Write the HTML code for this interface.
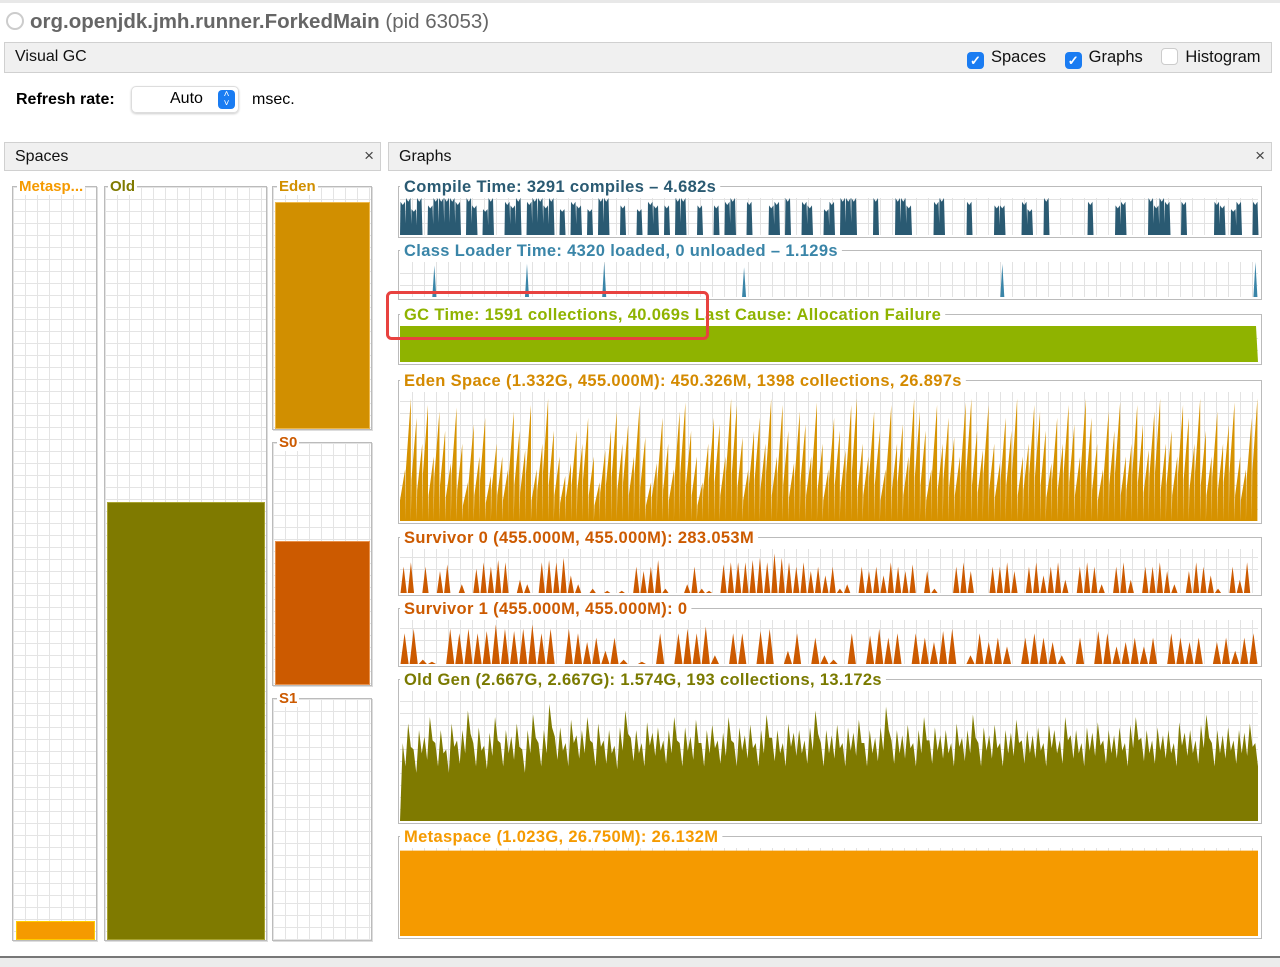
<!DOCTYPE html>
<html><head><meta charset="utf-8">
<style>
body{margin:0;width:1280px;height:967px;background:#fff;font-family:"Liberation Sans",sans-serif;position:relative;overflow:hidden}
.abs{position:absolute}
.hdr{background:#f0f0f0;border:1px solid #d0d0d0;font-size:16px;color:#111}
.cb{display:inline-block;width:17px;height:17px;border-radius:4px;vertical-align:-3px;margin-right:7px}
.on{background:#1a7cf2;color:#fff;font-size:13px;line-height:17px;text-align:center;font-weight:bold}
.off{background:#fff;border:1px solid #ccc;width:15px;height:15px}
.grid{background-color:#fff;background-image:linear-gradient(#e4e4e4 1px,transparent 1px),linear-gradient(90deg,#e4e4e4 1px,transparent 1px);background-size:12px 12px}
.sbox{border:1px solid #bbb;box-shadow:1px 1px 0 #ddd}
.slab{font-weight:bold;font-size:15px;background:#fff;padding:0 2px}
</style></head><body>
<div class="abs" style="left:0;top:0;width:1280px;height:3px;background:#e8e8e8"></div>
<div class="abs" style="left:6px;top:10px;font-size:20.5px;color:#666;white-space:nowrap"><span style="display:inline-block;width:14px;height:14px;border:2px solid #ccc;border-radius:50%;vertical-align:-2px;margin-right:6px"></span><b>org.openjdk.jmh.runner.ForkedMain</b> (pid 63053)</div>
<div class="abs hdr" style="left:4px;top:42px;width:1266px;height:29px">
 <span style="position:absolute;left:10px;top:5px">Visual GC</span>
 <span style="position:absolute;left:962px;top:5px;white-space:nowrap;font-size:16.5px">
  <span><span class="cb on">✓</span>Spaces</span>
  <span style="margin-left:14px"><span class="cb on">✓</span>Graphs</span>
  <span style="margin-left:14px"><span class="cb off"></span>Histogram</span>
 </span>
</div>
<div class="abs" style="left:16px;top:91px;font-size:16px;font-weight:bold">Refresh rate:</div>
<div class="abs" style="left:131px;top:86px;width:106px;height:25px;border:1px solid #ddd;border-radius:5px;box-shadow:0 1px 2px #ccc;font-size:16px">
 <span style="position:absolute;left:38px;top:3px">Auto</span>
 <span style="position:absolute;right:3px;top:3px;width:17px;height:19px;background:#1a7cf2;border-radius:4px;color:#fff;font-size:10px;line-height:9px;text-align:center">˄<br>˅</span>
</div>
<div class="abs" style="left:252px;top:91px;font-size:16px">msec.</div>

<div class="abs hdr" style="left:4px;top:142px;width:375px;height:27px"><span style="position:absolute;left:10px;top:5px">Spaces</span><span style="position:absolute;right:6px;top:3px;font-size:17px;color:#444">×</span></div>
<div class="abs hdr" style="left:388px;top:142px;width:882px;height:27px"><span style="position:absolute;left:10px;top:5px">Graphs</span><span style="position:absolute;right:6px;top:3px;font-size:17px;color:#444">×</span></div>

<!-- spaces -->
<div class="abs sbox grid" style="left:12px;top:186px;width:83px;height:753px"><div style="position:absolute;left:3px;right:1px;bottom:0;height:17px;background:#f59a00;border:1px solid #ffcc00"></div></div>
<div class="abs slab" style="left:17px;top:178px;color:#f59a00">Metasp...</div>
<div class="abs sbox grid" style="left:104px;top:186px;width:161px;height:753px"><div style="position:absolute;left:2px;right:1px;bottom:0;top:315px;background:#7f7a00;border:1px solid #a8a330"></div></div>
<div class="abs slab" style="left:108px;top:178px;color:#7f7a00">Old</div>
<div class="abs sbox grid" style="left:272px;top:186px;width:98px;height:242px"><div style="position:absolute;left:2px;right:1px;bottom:0;top:15px;background:#d18f00;border:1px solid #eeb84a"></div></div>
<div class="abs slab" style="left:277px;top:178px;color:#d18f00">Eden</div>
<div class="abs sbox grid" style="left:272px;top:442px;width:98px;height:242px"><div style="position:absolute;left:2px;right:1px;bottom:0;top:98px;background:#cc5a00;border:1px solid #e8904a"></div></div>
<div class="abs slab" style="left:277px;top:434px;color:#cc5a00">S0</div>
<div class="abs sbox grid" style="left:272px;top:698px;width:98px;height:241px"></div>
<div class="abs slab" style="left:277px;top:690px;color:#cc5a00">S1</div>

<svg id="g" class="abs" style="left:0;top:0" width="1280" height="967"></svg>

<div class="abs" style="left:0;top:956px;width:1280px;height:2px;background:#777"></div>
<div class="abs" style="left:0;top:958px;width:1280px;height:9px;background:#ececec"></div>

<script>
const compileVals=[0.9,1,0.7,1,0,0.8,1,1,1,1,0.9,0,1,0.8,0,0.7,1,0,0,0.9,0.8,1,0,0.9,1,1,0.8,1,0,0.7,0,0.9,0.8,0,0.7,0,1,1,0,0,0.8,0,0,0.7,0,0.9,0.8,0,0.8,0,1,1,0,0,0.8,0,0,0.8,0,0.9,1,0,0,0.9,0,0,0,0.8,0.9,0,1,0,0,0.9,0.8,0,0,0.7,0.9,0,1,1,1,0,0,0,1,0,0,0,1,1,0.8,0,0,0,0,0.9,1,0,0,0,0,0.9,0,0,0,0,0.8,0.8,0,0,0,0.9,0.7,0,0,1,0,0,0,0,0,0,0,0.9,0,0,0,0,0.8,0.9,0,0,0,0,1,0.8,1,0.9,0,0,0.9,0,0,0,0,0,0.9,0.8,0,0.7,0.9,0,0,0.9];
const classSpikeAt=[0.04,0.148,0.238,0.401,0.702,0.997];
const classSpikeH=[0.9,0.95,1,0.85,0.95,1];
const edenVals=[0.4,0.95,0.8,0.6,0.9,0.5,0.85,0.7,0.45,0.88,0.6,0.3,0.75,0.5,0.8,0.35,0.6,0.5,0.4,0.85,0.7,0.55,0.9,0.4,0.6,0.95,0.7,0.5,0.35,0.45,0.7,0.6,0.8,0.5,0.3,0.55,0.7,0.85,0.6,0.75,0.5,0.9,0.65,0.3,0.45,0.8,0.6,0.4,0.85,0.92,0.7,0.5,0.3,0.6,0.8,0.75,0.5,0.95,0.9,0.65,0.4,0.7,0.8,0.6,0.95,0.5,0.9,0.7,0.45,0.85,0.75,0.5,0.92,0.6,0.4,0.8,0.7,0.55,0.9,0.95,0.6,0.5,0.85,0.7,0.4,0.9,0.6,0.75,0.5,0.95,0.85,0.7,0.4,0.9,0.6,0.8,0.65,0.5,0.92,0.95,0.7,0.55,0.9,0.6,0.45,0.8,0.7,0.95,0.5,0.6,0.9,0.85,0.7,0.45,0.8,0.6,0.9,0.75,0.5,0.95,0.8,0.6,0.4,0.85,0.7,0.92,0.5,0.6,0.9,0.75,0.55,0.85,0.95,0.6,0.7,0.5,0.9,0.8,0.6,0.95,0.7,0.5,0.85,0.6,0.75,0.92,0.5,0.4,0.8,0.95];
const s0Vals=[0.6,0.7,0,0.6,0,0.5,0.65,0,0.2,0,0.55,0.7,0.6,0.75,0.7,0,0.3,0.2,0,0.7,0.75,0.7,0.8,0.4,0.2,0,0.1,0,0.05,0,0.05,0,0.6,0.5,0.6,0.75,0.1,0,0,0.2,0.6,0.1,0.05,0,0.65,0.7,0.7,0.7,0.75,0.8,0.7,0.9,0.8,0.7,0.6,0.7,0.5,0.6,0.4,0.6,0.1,0.2,0,0.6,0.5,0.6,0.4,0.7,0.6,0.5,0.65,0,0.5,0.1,0,0,0.6,0.7,0.5,0,0,0.6,0.6,0.7,0.5,0,0.6,0.7,0.4,0.6,0.7,0.3,0,0.6,0.7,0.6,0.2,0,0.6,0.7,0.3,0,0.6,0.6,0.7,0.5,0.2,0,0.5,0.7,0.6,0.4,0.1,0,0.6,0.3,0.7,0];
const s1Vals=[0.7,0.8,0.1,0.05,0,0.8,0.7,0.8,0.7,0.75,0.9,0.8,0.75,0.8,0.9,0.7,0.8,0,0.8,0.7,0.5,0.6,0.3,0.6,0.1,0,0.05,0,0.7,0,0.7,0.8,0.7,0.85,0.2,0,0.7,0.7,0,0.75,0.8,0,0.3,0.7,0,0.6,0.2,0.1,0,0.7,0,0.65,0.8,0.6,0.7,0,0.7,0.6,0.5,0.75,0.8,0,0.2,0.7,0.5,0.6,0.4,0,0.6,0.7,0.6,0.5,0.2,0,0.6,0,0.75,0.7,0.4,0.5,0.6,0.4,0.6,0,0.7,0.6,0.5,0.6,0,0.5,0.6,0.3,0.6,0.7];
const oldVals=[0.6,0.75,0.55,0.7,0.65,0.8,0.6,0.7,0.55,0.75,0.62,0.7,0.85,0.6,0.72,0.58,0.68,0.8,0.6,0.7,0.65,0.75,0.55,0.7,0.82,0.6,0.7,0.9,0.65,0.72,0.6,0.78,0.66,0.7,0.8,0.6,0.75,0.62,0.7,0.58,0.72,0.85,0.64,0.7,0.6,0.76,0.68,0.72,0.62,0.7,0.8,0.6,0.72,0.65,0.78,0.6,0.7,0.74,0.62,0.68,0.8,0.6,0.72,0.66,0.74,0.6,0.7,0.82,0.64,0.7,0.6,0.75,0.68,0.7,0.62,0.72,0.85,0.6,0.7,0.66,0.74,0.6,0.72,0.68,0.78,0.6,0.7,0.64,0.72,0.88,0.62,0.7,0.66,0.74,0.6,0.7,0.8,0.62,0.72,0.66,0.7,0.6,0.75,0.64,0.7,0.82,0.6,0.72,0.66,0.74,0.6,0.7,0.68,0.78,0.62,0.7,0.66,0.72,0.6,0.74,0.7,0.62,0.8,0.66,0.7,0.6,0.72,0.68,0.76,0.62,0.7,0.66,0.72,0.6,0.74,0.8,0.64,0.7,0.62,0.72,0.66,0.7,0.6,0.76,0.68,0.7,0.62,0.74,0.82,0.6,0.7,0.66,0.72,0.62,0.7,0.68,0.75,0.6];
const gcLevel=1, metaLevel=0.97;

const NS='http://www.w3.org/2000/svg', svg=document.getElementById('g');
function el(t,a,p){const e=document.createElementNS(NS,t);for(const k in a)e.setAttribute(k,a[k]);(p||svg).appendChild(e);return e;}
const X0=400,X1=1258;
function panel(name,label,color,top,bottom){
  const box=el('rect',{x:398.5,y:top+0.5,width:863,height:bottom-top,fill:'none',stroke:'#bbb'});
  
  const pt=top+12,pb=bottom-2;
  const grid=el('g',{stroke:'#e2e2e2','stroke-width':1});
  
  el('rect',{x:X0,y:pt,width:X1-X0,height:pb-pt,fill:'#fff',stroke:'none'},grid);
  for(let x=X0+12;x<X1;x+=12)el('line',{x1:x+.5,y1:pt,x2:x+.5,y2:pb},grid);
  for(let y=pb-12;y>pt;y-=12)el('line',{x1:X0,y1:y+.5,x2:X1,y2:y+.5},grid);
  const t=el('text',{x:404,y:top+6,fill:color,'font-size':16.5,'letter-spacing':0.35,'font-weight':'bold','font-family':'Liberation Sans, sans-serif'});
  t.textContent=label;
  
  const bb=t.getBBox();
  el('rect',{x:400,y:top-4,width:bb.width+8,height:9,fill:'#fff'}).parentNode.insertBefore(svg.lastChild,t);
  return {pt,pb,y:v=>pb-v*(pb-pt)};
}
function xs(i,n){return X0+(X1-X0)*i/n;}
function spikes(p,vals,color,name,rise){
  const n=vals.length;let d=`M${X0},${p.pb}`;
  vals.forEach((v,i)=>{const a=xs(i,n),b=xs(i+1,n);
    if(v<=0){d+=`L${b},${p.pb}`;return;}
    if(rise){d+=`L${a},${p.y(v*0.4)}L${b-0.6},${p.y(v)}L${b-0.6},${p.pb}`;}
    else{const m=(a+b)/2;d+=`L${a+0.5},${p.pb}L${m},${p.y(v)}L${b-0.5},${p.pb}`;}
  });
  d+=`L${X1},${p.pb}Z`;
  const e=el('path',{d,fill:color});
  
}
let p=panel('compile-time','Compile Time: 3291 compiles – 4.682s','#2a5a72',186,237);
{const n=compileVals.length;let d='';
 compileVals.forEach((v,i)=>{if(v<=0)return;const a=xs(i,n),b=xs(i+1,n);d+=`M${a},${p.pb}L${a+0.5},${p.y(v)}L${(a+b)/2},${p.y(v*0.9)}L${b-0.5},${p.y(v)}L${b+0.5},${p.pb}Z`;});
 const e=el('path',{d,fill:'#2a5a72'});}
p=panel('class-loader','Class Loader Time: 4320 loaded, 0 unloaded – 1.129s','#3a85a8',250,299);
classSpikeAt.forEach((f,i)=>{const x=X0+(X1-X0)*f;const e=el('path',{d:`M${x-2},${p.pb}L${x},${p.y(classSpikeH[i])}L${x+2},${p.pb}Z`,fill:'#3a85a8'});
 });
p=panel('gc-time','GC Time: 1591 collections, 40.069s  Last Cause: Allocation Failure','#8fb300',314,364);
{const e=el('path',{d:`M${X0},${p.pb}L${X0},${p.y(gcLevel)}L${X1-2},${p.y(gcLevel)}L${X1},${p.pb}Z`,fill:'#8fb300'});}
p=panel('eden-space-graph','Eden Space (1.332G, 455.000M): 450.326M, 1398 collections, 26.897s','#d48a00',380,523);
spikes(p,edenVals,'#d69200','eden-area',true);
p=panel('survivor0-graph','Survivor 0 (455.000M, 455.000M): 283.053M','#cc5a00',537,595);
spikes(p,s0Vals,'#cc5a00','survivor0-area',false);
p=panel('survivor1-graph','Survivor 1 (455.000M, 455.000M): 0','#cc5a00',608,666);
spikes(p,s1Vals,'#cc5a00','survivor1-area',false);
p=panel('old-gen-graph','Old Gen (2.667G, 2.667G): 1.574G, 193 collections, 13.172s','#7a7a00',679,823);
{const n=oldVals.length;let d=`M${X0},${p.pb}`;oldVals.forEach((v,i)=>{d+=`L${xs(i+0.5,n)},${p.y(v)}L${xs(i+1,n)},${p.y(v-0.18)}`;});d+=`L${X1},${p.pb}Z`;
 const e=el('path',{d,fill:'#7f7a00'});}
p=panel('metaspace-graph','Metaspace (1.023G, 26.750M): 26.132M','#f59a00',836,938);
{const e=el('path',{d:`M${X0},${p.pb}L${X0},${p.y(metaLevel)}L${X1},${p.y(metaLevel)}L${X1},${p.pb}Z`,fill:'#f59a00'});}
const hl=el('rect',{x:387.5,y:292.5,width:320,height:46,rx:4,fill:'none',stroke:'#e8423f','stroke-width':3});

</script>
</body></html>
